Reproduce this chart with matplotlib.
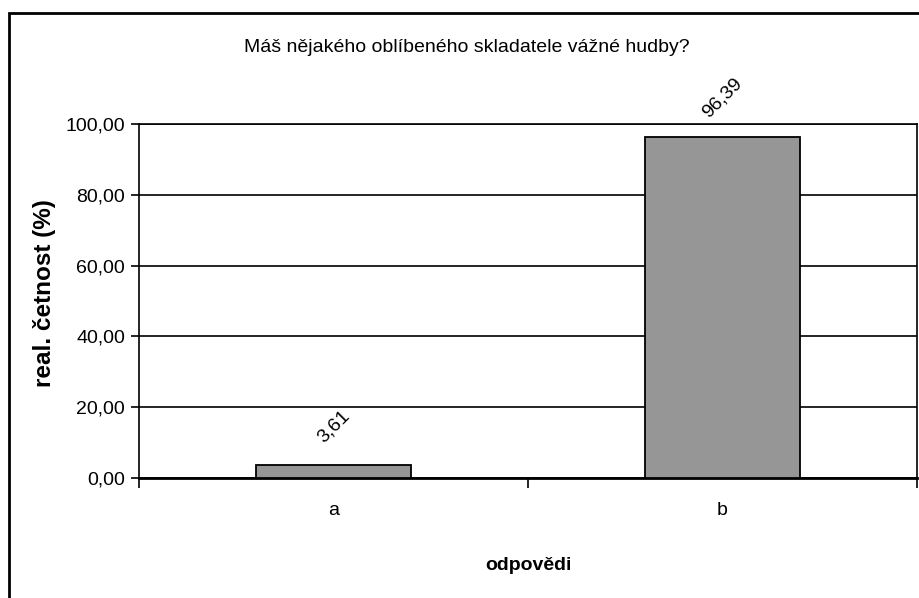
import matplotlib.pyplot as plt
from matplotlib.patches import Rectangle

# data
categories = ["a", "b"]
values = [3.61, 96.39]
y_ticks = [0, 20, 40, 60, 80, 100]

plt.rcParams['font.family'] = ['Liberation Sans', 'DejaVu Sans']

W, H = 920, 598
fig = plt.figure(figsize=(W / 100, H / 100), dpi=100)

# outer chart frame (cut at right and bottom like the original)
fig.patches.append(Rectangle((9 / W, -0.01), 1.0, 1 - 13 / H + 0.01,
                             transform=fig.transFigure, fill=False,
                             edgecolor="black", lw=2))

ax = fig.add_axes([139 / W, 1 - 478 / H, (917 - 139) / W, (478 - 124) / H])
x = range(len(categories))
ax.bar(x, values, width=0.4, color="#969696", edgecolor="black", lw=1.3, zorder=3)
ax.set_xlim(-0.5, len(categories) - 0.5)
ax.set_ylim(0, 100)

ax.set_yticks(y_ticks)
ax.set_yticklabels([f"{v:.2f}".replace(".", ",") for v in y_ticks], fontsize=14)
ax.yaxis.grid(True, color="black", lw=1.2)
ax.set_axisbelow(True)

ax.set_xticks(x)
ax.set_xticklabels(categories, fontsize=14)
ax.tick_params(axis="x", length=0, pad=17)
ax.set_xticks([-0.5, 0.5, 1.5], minor=True)
ax.tick_params(axis="x", which="minor", length=7, width=1.2, direction="out")
ax.tick_params(axis="y", length=6, width=1.2, direction="out", pad=4)

for s in ax.spines.values():
    s.set_linewidth(1.2)
ax.spines["bottom"].set_linewidth(2)

for xi, v in zip(x, values):
    ax.annotate(f"{v:.2f}".replace(".", ","), (xi, v), xytext=(0, 28),
                textcoords="offset points", ha="center", va="center",
                rotation=45, fontsize=14, rotation_mode="anchor")

fig.text(467 / W, 1 - 48 / H, "Máš nějakého oblíbeného skladatele vážné hudby?",
         ha="center", va="center", fontsize=14)
fig.text(45 / W, 1 - 293 / H, "real. četnost (%)", rotation=90, ha="center",
         va="center", fontsize=17.5, fontweight="bold")
fig.text(528 / W, 1 - 566 / H, "odpovědi", ha="center", va="center",
         fontsize=14, fontweight="bold")

fig.savefig("out.png", dpi=100)
